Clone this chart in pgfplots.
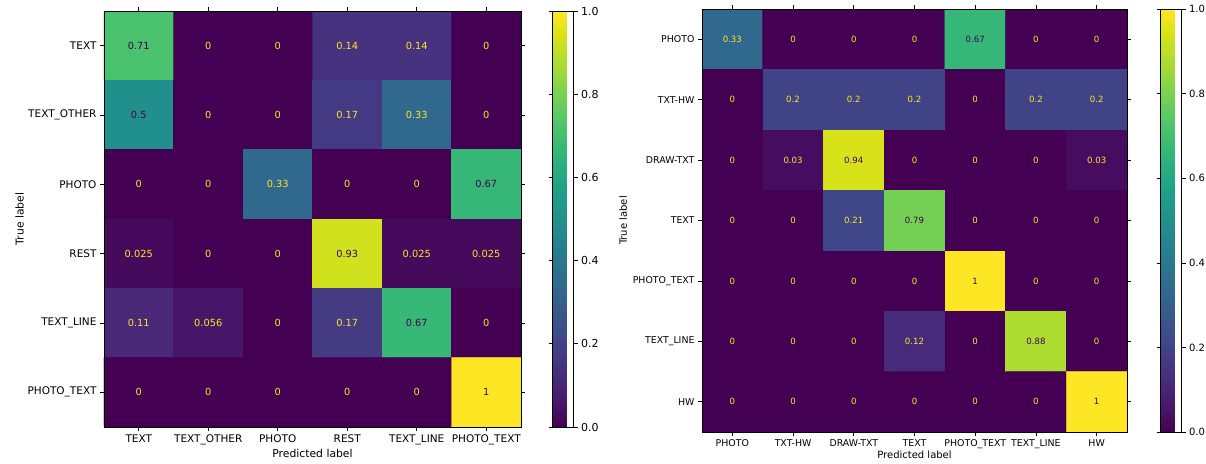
\documentclass[border=0pt]{standalone}
\usepackage{pgfplots}
\pgfplotsset{compat=1.18}
\usepackage{fontspec}
\setmainfont{DejaVu Sans}
\definecolor{vlo}{HTML}{440154}
\definecolor{vhi}{HTML}{FDE725}
\begin{document}
\begin{tikzpicture}
\useasboundingbox (0,0) rectangle (1206pt,463pt);
\pgfplotsset{
  cm/.style={
    scale only axis, y dir=reverse, axis on top,
    axis background/.style={fill=vlo},
    colormap/viridis, point meta min=0, point meta max=1,
    xtick=data, ytick=data, tick align=outside, major tick length=4pt,
    tick style={black, line width=0.6pt},
    axis line style={black, line width=0.6pt},
    /pgf/number format/assume math mode=true,
    enlargelimits=false,
  },
  lowtxt/.style={only marks, mark=none, nodes near coords, point meta=explicit symbolic,
    every node near coord/.append style={anchor=center, text=vhi}},
  hitxt/.style={only marks, mark=none, nodes near coords, point meta=explicit symbolic,
    every node near coord/.append style={anchor=center, text=vlo}},
}
% ---------------- Left matrix ----------------
\begin{axis}[cm,
  at={(104pt,36pt)}, anchor=south west, width=417pt, height=416pt,
  xmin=-0.5, xmax=5.5, ymin=-0.5, ymax=5.5,
  xtick={0,...,5}, ytick={0,...,5},
  xticklabels={TEXT, TEXT\_OTHER, PHOTO, REST, TEXT\_LINE, PHOTO\_TEXT},
  yticklabels={TEXT, TEXT\_OTHER, PHOTO, REST, TEXT\_LINE, PHOTO\_TEXT},
  ticklabel style={font=\fontsize{10.5}{12}\selectfont},
  xlabel={Predicted label}, ylabel={True label},
  xlabel style={yshift=2pt}, ylabel style={yshift=-3pt},
  label style={font=\fontsize{10.8}{12}\selectfont},
  colorbar,
  colorbar style={at={(parent axis.north east)}, anchor=north west, xshift=23pt,
    width=21pt, ytick={0,0.2,0.4,0.6,0.8,1},
    yticklabels={0.0,0.2,0.4,0.6,0.8,1.0},
    yticklabel style={font=\fontsize{11}{12}\selectfont},
    /pgf/number format/assume math mode=true,
    tick align=outside, major tick length=4pt, tick style={black, line width=0.6pt},
    axis line style={black, line width=0.6pt}},
  nodes near coords style={font=\fontsize{9.8}{11}\selectfont},
]
\addplot[matrix plot*, mesh/cols=6, point meta=explicit] table[meta=v] {
x y v
0 0 0.714
1 0 0
2 0 0
3 0 0.143
4 0 0.143
5 0 0
0 1 0.5
1 1 0
2 1 0
3 1 0.167
4 1 0.333
5 1 0
0 2 0
1 2 0
2 2 0.333
3 2 0
4 2 0
5 2 0.667
0 3 0.025
1 3 0
2 3 0
3 3 0.93
4 3 0.025
5 3 0.025
0 4 0.11
1 4 0.056
2 4 0
3 4 0.17
4 4 0.67
5 4 0
0 5 0
1 5 0
2 5 0
3 5 0
4 5 0
5 5 1
};
\addplot[lowtxt] coordinates {
(1,0)[0] (2,0)[0] (3,0)[0.14] (4,0)[0.14] (5,0)[0]
(1,1)[0] (2,1)[0] (3,1)[0.17] (4,1)[0.33] (5,1)[0]
(0,2)[0] (1,2)[0] (2,2)[0.33] (3,2)[0] (4,2)[0]
(0,3)[0.025] (1,3)[0] (2,3)[0] (4,3)[0.025] (5,3)[0.025]
(0,4)[0.11] (1,4)[0.056] (2,4)[0] (3,4)[0.17] (5,4)[0]
(0,5)[0] (1,5)[0] (2,5)[0] (3,5)[0] (4,5)[0]
};
\addplot[hitxt] coordinates {
(0,0)[0.71] (0,1)[0.5] (5,2)[0.67] (3,3)[0.93] (4,4)[0.67] (5,5)[1]
};
\end{axis}
% ---------------- Right matrix ----------------
\begin{axis}[cm,
  at={(702pt,31pt)}, anchor=south west, width=425pt, height=423pt,
  xmin=-0.5, xmax=6.5, ymin=-0.5, ymax=6.5,
  xtick={0,...,6}, ytick={0,...,6},
  xticklabels={PHOTO, TXT-HW, DRAW-TXT, TEXT, PHOTO\_TEXT, TEXT\_LINE, HW},
  yticklabels={PHOTO, TXT-HW, DRAW-TXT, TEXT, PHOTO\_TEXT, TEXT\_LINE, HW},
  ticklabel style={font=\fontsize{9.4}{11}\selectfont},
  xlabel={Predicted label}, ylabel={True label},
  xlabel style={yshift=5pt}, ylabel style={yshift=-1pt},
  label style={font=\fontsize{10}{12}\selectfont},
  colorbar,
  colorbar style={at={(parent axis.north east)}, anchor=north west, xshift=25pt,
    width=21pt, ytick={0,0.2,0.4,0.6,0.8,1},
    yticklabels={0.0,0.2,0.4,0.6,0.8,1.0},
    yticklabel style={font=\fontsize{10}{12}\selectfont},
    /pgf/number format/assume math mode=true,
    tick align=outside, major tick length=4pt, tick style={black, line width=0.6pt},
    axis line style={black, line width=0.6pt}},
  nodes near coords style={font=\fontsize{8.6}{10}\selectfont},
]
\addplot[matrix plot*, mesh/cols=7, point meta=explicit] table[meta=v] {
x y v
0 0 0.333
1 0 0
2 0 0
3 0 0
4 0 0.667
5 0 0
6 0 0
0 1 0
1 1 0.2
2 1 0.2
3 1 0.2
4 1 0
5 1 0.2
6 1 0.2
0 2 0
1 2 0.03
2 2 0.94
3 2 0
4 2 0
5 2 0
6 2 0.03
0 3 0
1 3 0
2 3 0.21
3 3 0.79
4 3 0
5 3 0
6 3 0
0 4 0
1 4 0
2 4 0
3 4 0
4 4 1
5 4 0
6 4 0
0 5 0
1 5 0
2 5 0
3 5 0.12
4 5 0
5 5 0.88
6 5 0
0 6 0
1 6 0
2 6 0
3 6 0
4 6 0
5 6 0
6 6 1
};
\addplot[lowtxt] coordinates {
(0,0)[0.33] (1,0)[0] (2,0)[0] (3,0)[0] (5,0)[0] (6,0)[0]
(0,1)[0] (1,1)[0.2] (2,1)[0.2] (3,1)[0.2] (4,1)[0] (5,1)[0.2] (6,1)[0.2]
(0,2)[0] (1,2)[0.03] (3,2)[0] (4,2)[0] (5,2)[0] (6,2)[0.03]
(0,3)[0] (1,3)[0] (2,3)[0.21] (4,3)[0] (5,3)[0] (6,3)[0]
(0,4)[0] (1,4)[0] (2,4)[0] (3,4)[0] (5,4)[0] (6,4)[0]
(0,5)[0] (1,5)[0] (2,5)[0] (3,5)[0.12] (4,5)[0] (6,5)[0]
(0,6)[0] (1,6)[0] (2,6)[0] (3,6)[0] (4,6)[0] (5,6)[0]
};
\addplot[hitxt] coordinates {
(4,0)[0.67] (2,2)[0.94] (3,3)[0.79] (4,4)[1] (5,5)[0.88] (6,6)[1]
};
\end{axis}
\end{tikzpicture}
\end{document}
